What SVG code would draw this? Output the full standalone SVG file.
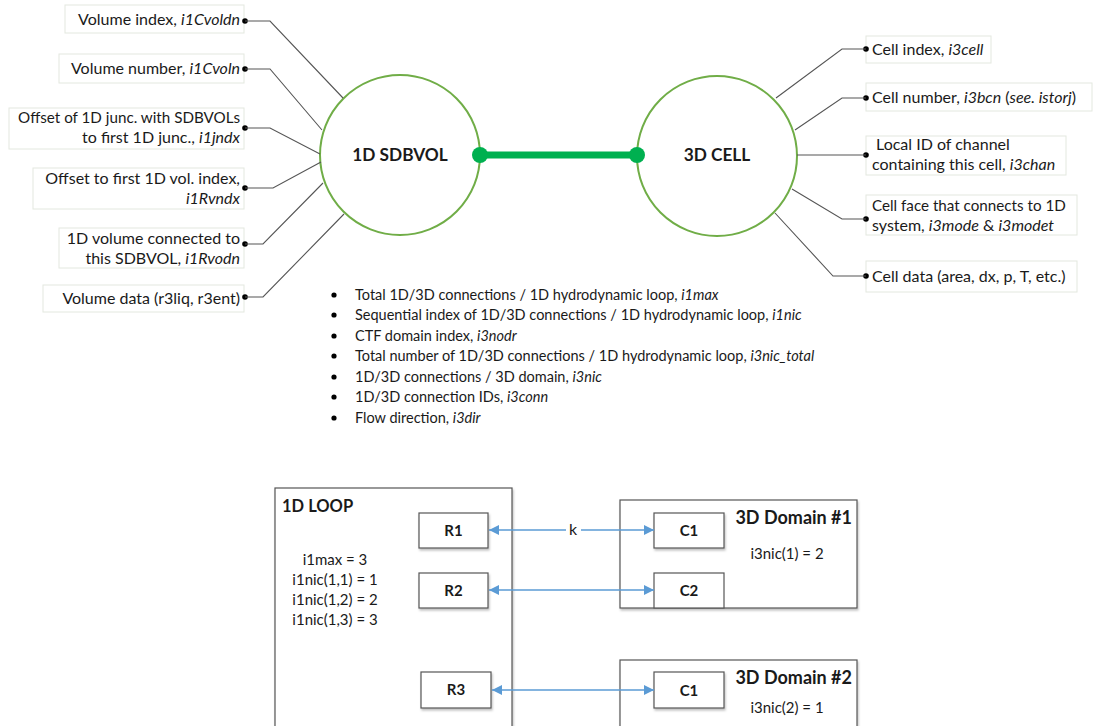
<svg xmlns="http://www.w3.org/2000/svg" width="1093" height="726" viewBox="0 0 1093 726">
<style>
text{font-family:Lato,"Liberation Sans",sans-serif;fill:#1a1a1a}
.lbl{font-size:16px}
.lbl.n{font-size:15.2px}
.lbox{fill:#fff;stroke:#e3e8df;stroke-width:1}
.lead{fill:none;stroke:#555;stroke-width:1.1}
.dot{fill:#000}
.circ{fill:#fff;stroke:#70ad47;stroke-width:2}
.big{font-size:17.3px;font-weight:bold;text-anchor:middle}
.bul{font-size:14.5px}
.box{fill:#fff;stroke:#555;stroke-width:1.2}
.bt{font-size:15px;font-weight:bold;text-anchor:middle}
.blue{stroke:#5b9bd5;stroke-width:1.3;fill:none}
.small{font-size:15px}
.dom{font-size:18px;font-weight:bold;text-anchor:end}
</style>
<defs>
<marker id="ah" viewBox="0 0 10 10" refX="10" refY="5" markerWidth="14" markerHeight="10" markerUnits="userSpaceOnUse" orient="auto-start-reverse">
<path d="M0,0 L10,5 L0,10 z" fill="#5b9bd5"/>
</marker>
<filter id="sh" x="-10%" y="-10%" width="130%" height="140%">
<feDropShadow dx="1" dy="2" stdDeviation="1.2" flood-color="#000" flood-opacity="0.25"/>
</filter>
</defs>

<g id="sdbvol"><circle class="circ" cx="400" cy="155" r="80"/><text class="big" x="400" y="161">1D SDBVOL</text></g>
<g id="cell3d"><circle class="circ" cx="717" cy="156" r="80"/><text class="big" x="717" y="161">3D CELL</text></g>

<g id="l1"><rect class="lbox" x="65" y="5" width="179" height="28"/><text class="lbl" x="240" y="25" text-anchor="end">Volume index, <tspan font-style="italic">i1Cvoldn</tspan></text><circle class="dot" cx="245" cy="21" r="2.8"/></g>
<g id="l2"><rect class="lbox" x="59" y="54" width="185" height="29"/><text class="lbl" x="240" y="74" text-anchor="end">Volume number, <tspan font-style="italic">i1Cvoln</tspan></text><circle class="dot" cx="245" cy="69" r="2.8"/></g>
<g id="l3"><rect class="lbox" x="9" y="108" width="235" height="41"/><text class="lbl n" x="240" y="123" text-anchor="end">Offset of 1D junc. with SDBVOLs</text><text class="lbl" x="240" y="143" text-anchor="end">to first 1D junc., <tspan font-style="italic">i1jndx</tspan></text><circle class="dot" cx="245" cy="128" r="2.8"/></g>
<g id="l4"><rect class="lbox" x="33" y="168" width="211" height="41"/><text class="lbl" x="240" y="184" text-anchor="end">Offset to first 1D vol. index,</text><text class="lbl" x="240" y="204" text-anchor="end" font-style="italic">i1Rvndx</text><circle class="dot" cx="245" cy="188" r="2.8"/></g>
<g id="l5"><rect class="lbox" x="59" y="228" width="185" height="40"/><text class="lbl" x="240" y="244" text-anchor="end">1D volume connected to</text><text class="lbl" x="240" y="264" text-anchor="end">this SDBVOL, <tspan font-style="italic">i1Rvodn</tspan></text><circle class="dot" cx="245" cy="244" r="2.8"/></g>
<g id="l6"><rect class="lbox" x="43" y="285" width="201" height="27"/><text class="lbl" x="240" y="304" text-anchor="end">Volume data (r3liq, r3ent)</text><circle class="dot" cx="245" cy="297" r="2.8"/></g>

<g id="r1"><rect class="lbox" x="866" y="36" width="125" height="27"/><text class="lbl" x="872" y="55">Cell index, <tspan font-style="italic">i3cell</tspan></text><circle class="dot" cx="866" cy="49" r="2.8"/></g>
<g id="r2"><rect class="lbox" x="866" y="83" width="226" height="28"/><text class="lbl" x="872" y="103">Cell number, <tspan font-style="italic">i3bcn</tspan> (<tspan font-style="italic">see. istorj</tspan>)</text><circle class="dot" cx="866" cy="98" r="2.8"/></g>
<g id="r3"><rect class="lbox" x="866" y="136" width="200" height="39"/><text class="lbl" x="876" y="150">Local ID of channel</text><text class="lbl" x="872" y="170">containing this cell, <tspan font-style="italic">i3chan</tspan></text><circle class="dot" cx="866" cy="155" r="2.8"/></g>
<g id="r4"><rect class="lbox" x="866" y="195" width="211" height="40"/><text class="lbl n" x="872" y="211">Cell face that connects to 1D</text><text class="lbl" x="872" y="231">system, <tspan font-style="italic">i3mode</tspan> &amp; <tspan font-style="italic">i3modet</tspan></text><circle class="dot" cx="866" cy="219" r="2.8"/></g>
<g id="r5"><rect class="lbox" x="866" y="261" width="211" height="31"/><text class="lbl" x="872" y="282">Cell data (area, dx, p, T, etc.)</text><circle class="dot" cx="866" cy="276" r="2.8"/></g>

<g id="bullets">
<circle class="dot" cx="334" cy="295" r="2.6"/><text class="bul" x="355" y="300">Total 1D/3D connections / 1D hydrodynamic loop, <tspan font-style="italic">i1max</tspan></text>
<circle class="dot" cx="334" cy="315" r="2.6"/><text class="bul" x="355" y="320">Sequential index of 1D/3D connections / 1D hydrodynamic loop, <tspan font-style="italic">i1nic</tspan></text>
<circle class="dot" cx="334" cy="336" r="2.6"/><text class="bul" x="355" y="341">CTF domain index, <tspan font-style="italic">i3nodr</tspan></text>
<circle class="dot" cx="334" cy="356" r="2.6"/><text class="bul" x="355" y="361">Total number of 1D/3D connections / 1D hydrodynamic loop, <tspan font-style="italic">i3nic_total</tspan></text>
<circle class="dot" cx="334" cy="377" r="2.6"/><text class="bul" x="355" y="382">1D/3D connections / 3D domain, <tspan font-style="italic">i3nic</tspan></text>
<circle class="dot" cx="334" cy="397" r="2.6"/><text class="bul" x="355" y="402">1D/3D connection IDs, <tspan font-style="italic">i3conn</tspan></text>
<circle class="dot" cx="334" cy="418" r="2.6"/><text class="bul" x="355" y="423">Flow direction, <tspan font-style="italic">i3dir</tspan></text>
</g>

<g id="loop1d">
<rect class="box" x="275" y="488" width="237" height="250" filter="url(#sh)"/>
<text x="282" y="512" font-size="16.5" font-weight="bold">1D LOOP</text>
<text class="small" x="335" y="565" text-anchor="middle">i1max = 3</text>
<text class="small" x="335" y="585" text-anchor="middle">i1nic(1,1) = 1</text>
<text class="small" x="335" y="605" text-anchor="middle">i1nic(1,2) = 2</text>
<text class="small" x="335" y="625" text-anchor="middle">i1nic(1,3) = 3</text>
</g>
<g id="R1"><rect class="box" x="419" y="513" width="69" height="35" filter="url(#sh)"/><text class="bt" x="453.5" y="536">R1</text></g>
<g id="R2"><rect class="box" x="419" y="573" width="69" height="35" filter="url(#sh)"/><text class="bt" x="453.5" y="596">R2</text></g>
<g id="R3"><rect class="box" x="421" y="672" width="70" height="36" filter="url(#sh)"/><text class="bt" x="456" y="695">R3</text></g>

<g id="dom1">
<rect class="box" x="620" y="500" width="237" height="108" filter="url(#sh)"/>
<text class="dom" x="852" y="524">3D Domain #1</text>
<text class="small" x="787" y="559" text-anchor="middle">i3nic(1) = 2</text>
</g>
<g id="d1c1"><rect class="box" x="654" y="513" width="70" height="35" filter="url(#sh)"/><text class="bt" x="689" y="536">C1</text></g>
<g id="d1c2"><rect class="box" x="654" y="573" width="70" height="35"/><text class="bt" x="689" y="596">C2</text></g>

<g id="dom2">
<rect class="box" x="620" y="660" width="237" height="90" filter="url(#sh)"/>
<text class="dom" x="852" y="684">3D Domain #2</text>
<text class="small" x="787" y="713" text-anchor="middle">i3nic(2) = 1</text>
</g>
<g id="d2c1"><rect class="box" x="654" y="672" width="70" height="36" filter="url(#sh)"/><text class="bt" x="689" y="696">C1</text></g>

<g id="connectors">
<path class="lead" d="M245,21 H270 L343,98"/>
<path class="lead" d="M245,69 H270 L322,130"/>
<path class="lead" d="M245,128 H270 L320,154"/>
<path class="lead" d="M245,188 H273 L321,162"/>
<path class="lead" d="M245,244 H263 L323,183"/>
<path class="lead" d="M245,297 H263 L344,214"/>
<path class="lead" d="M866,49 H842 L776,98"/>
<path class="lead" d="M866,98 H842 L795,130"/>
<path class="lead" d="M866,155 H797"/>
<path class="lead" d="M866,219 H842 L792,189"/>
<path class="lead" d="M866,276 H833 L775,213"/>
<line x1="480" y1="155" x2="637" y2="155" stroke="#00b050" stroke-width="7"/>
<circle cx="480" cy="155" r="8" fill="#00b050"/>
<circle cx="637" cy="155" r="8" fill="#00b050"/>
<line class="blue" x1="489" y1="530" x2="566" y2="530" marker-start="url(#ah)"/>
<line class="blue" x1="581" y1="530" x2="654" y2="530" marker-end="url(#ah)"/>
<line class="blue" x1="489" y1="590" x2="654" y2="590" marker-start="url(#ah)" marker-end="url(#ah)"/>
<line class="blue" x1="492" y1="690" x2="654" y2="690" marker-start="url(#ah)" marker-end="url(#ah)"/>
<text x="573" y="535" font-size="16" text-anchor="middle">k</text>
</g>
</svg>
